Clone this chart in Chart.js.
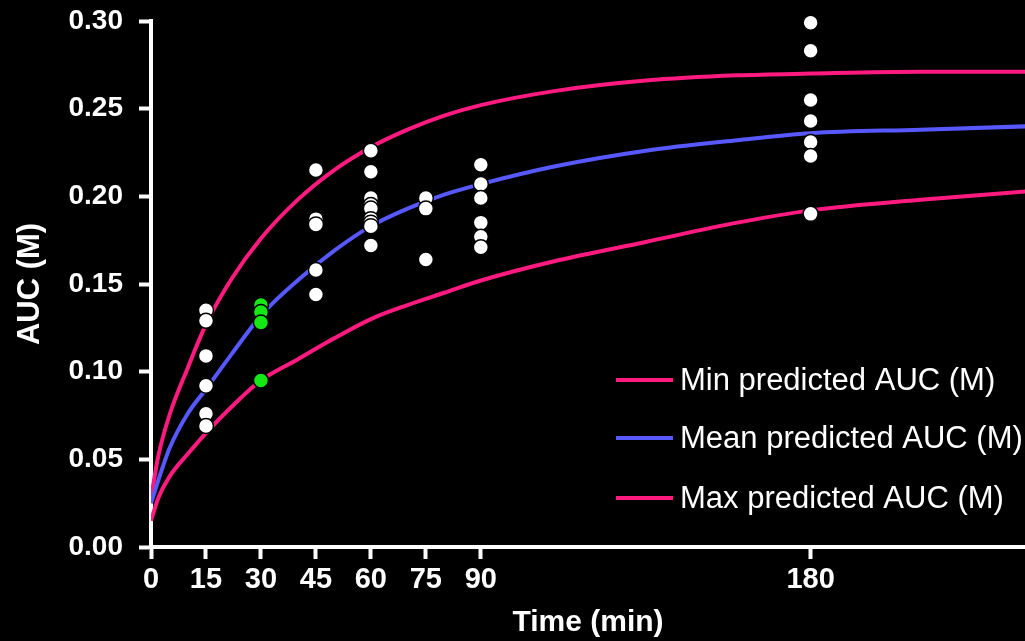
<!DOCTYPE html>
<html>

<head>
    <title>Predicted vs observed AUC</title>
    <script src="https://cdn.jsdelivr.net/npm/chart.js@4"></script>
    <style>
        html, body { margin: 0; padding: 0; background: #000; }
    </style>
</head>

<body>
    <canvas id="aucChart" width="1025" height="641"></canvas>

    <script>
        // x-axis tick positions (min)
        const timeTicks = [0, 15, 30, 45, 60, 75, 90, 180];

        // sample times for the predicted curves (min)
        const curveTimes = [0, 2, 5, 10, 15, 22, 30, 40, 50, 60, 70, 80, 90, 110, 135, 160, 180, 210, 240];
        const minPredicted = [0.015, 0.028, 0.040, 0.053, 0.065, 0.080, 0.095, 0.107, 0.119, 0.130, 0.138, 0.145, 0.152, 0.163, 0.174, 0.185, 0.192, 0.198, 0.203];
        const meanPredicted = [0.025, 0.038, 0.056, 0.076, 0.090, 0.110, 0.132, 0.152, 0.169, 0.183, 0.193, 0.201, 0.207, 0.217, 0.226, 0.232, 0.236, 0.238, 0.240];
        const maxPredicted = [0.028, 0.052, 0.075, 0.102, 0.127, 0.153, 0.176, 0.198, 0.215, 0.228, 0.238, 0.246, 0.252, 0.260, 0.266, 0.269, 0.270, 0.271, 0.271];

        // observed AUC (white)
        const observedTime = [
            15, 15, 15, 15, 15, 15,
            45, 45, 45, 45, 45,
            60, 60, 60, 60, 60, 60, 60, 60, 60,
            75, 75, 75,
            90, 90, 90, 90, 90, 90,
            180, 180, 180, 180, 180, 180, 180
        ];
        const observedAUC = [
            0.135, 0.129, 0.109, 0.092, 0.076, 0.069,
            0.215, 0.187, 0.184, 0.158, 0.144,
            0.226, 0.214, 0.199, 0.195, 0.193, 0.187, 0.185, 0.183, 0.172,
            0.199, 0.193, 0.164,
            0.218, 0.207, 0.199, 0.185, 0.177, 0.171,
            0.299, 0.283, 0.255, 0.243, 0.231, 0.223, 0.190
        ];

        // 30 min samples (green)
        const greenTime = [30, 30, 30, 30];
        const greenAUC = [0.138, 0.134, 0.128, 0.095];

        const PINK = '#ff1a80';
        const BLUE = '#5858ff';
        const GREEN = '#16e816';

        const toXY = (xs, ys) => xs.map((x, i) => ({ x: x, y: ys[i] }));

        const curve = (label, ys, color) => ({
            type: 'line',
            label: label,
            data: toXY(curveTimes, ys),
            borderColor: color,
            borderWidth: 4,
            pointRadius: 0,
            cubicInterpolationMode: 'monotone',
            fill: false,
            order: 2,
            isCurve: true
        });

        const dots = (xs, ys, color) => ({
            type: 'scatter',
            data: toXY(xs, ys),
            backgroundColor: color,
            borderColor: '#000',
            borderWidth: 1.5,
            pointRadius: 7.5,
            clip: false,
            order: 0
        });

        // black page background
        const background = {
            id: 'background',
            beforeDraw(chart) {
                const ctx = chart.ctx;
                ctx.save();
                ctx.fillStyle = '#000';
                ctx.fillRect(0, 0, chart.width, chart.height);
                ctx.restore();
            }
        };

        // legend inside the plot, lower right
        const curveLegend = {
            id: 'curveLegend',
            afterDraw(chart) {
                const ctx = chart.ctx;
                const rows = [380, 438, 498];
                ctx.save();
                ctx.font = '31px "Liberation Sans", Arial, sans-serif';
                ctx.textBaseline = 'middle';
                ctx.textAlign = 'left';
                chart.data.datasets.filter(d => d.isCurve).forEach((d, i) => {
                    const y = rows[i];
                    ctx.strokeStyle = d.borderColor;
                    ctx.lineWidth = 4;
                    ctx.beginPath();
                    ctx.moveTo(616, y);
                    ctx.lineTo(673, y);
                    ctx.stroke();
                    ctx.fillStyle = '#fff';
                    ctx.fillText(d.label, 680, y + 1);
                });
                ctx.restore();
            }
        };

        const boldFont = size => ({ family: '"Liberation Sans", Arial, sans-serif', size: size, weight: 'bold' });

        new Chart('aucChart', {
            data: {
                datasets: [
                    curve('Min predicted AUC (M)', minPredicted, PINK),
                    curve('Mean predicted AUC (M)', meanPredicted, BLUE),
                    curve('Max predicted AUC (M)', maxPredicted, PINK),
                    dots(observedTime, observedAUC, '#fff'),
                    dots(greenTime, greenAUC, GREEN)
                ]
            },
            options: {
                responsive: false,
                animation: false,
                layout: { autoPadding: false, padding: { top: 21, right: 0, left: 0, bottom: 0 } },
                plugins: {
                    legend: { display: false },
                    tooltip: { enabled: false }
                },
                scales: {
                    x: {
                        type: 'linear',
                        min: 0,
                        max: 238.5,
                        afterBuildTicks: scale => {
                            scale.ticks = timeTicks.map(v => ({ value: v }));
                        },
                        afterFit: scale => {
                            scale.height = 94;
                            scale.paddingLeft = 0;
                            scale.paddingRight = 0;
                        },
                        border: { display: true, color: '#fff', width: 4 },
                        grid: { drawOnChartArea: false, tickLength: 12, tickWidth: 4, tickColor: '#fff' },
                        ticks: {
                            color: '#fff',
                            padding: 4,
                            maxRotation: 0,
                            font: boldFont(29)
                        },
                        title: {
                            display: true,
                            text: 'Time (min)',
                            color: '#fff',
                            font: boldFont(30),
                            padding: { top: 0, bottom: 0 }
                        }
                    },
                    y: {
                        type: 'linear',
                        min: 0,
                        max: 0.30,
                        afterFit: scale => {
                            scale.width = 151;
                            scale.paddingTop = 0;
                            scale.paddingBottom = 0;
                        },
                        border: { display: true, color: '#fff', width: 4 },
                        grid: { drawOnChartArea: false, tickLength: 12, tickWidth: 4, tickColor: '#fff' },
                        ticks: {
                            stepSize: 0.05,
                            color: '#fff',
                            padding: 16,
                            font: boldFont(28),
                            callback: v => v.toFixed(2)
                        },
                        title: {
                            display: true,
                            text: 'AUC (M)',
                            color: '#fff',
                            font: boldFont(31),
                            padding: { top: 12, bottom: 0 }
                        }
                    }
                }
            },
            plugins: [background, curveLegend]
        });
    </script>
</body>

</html>
